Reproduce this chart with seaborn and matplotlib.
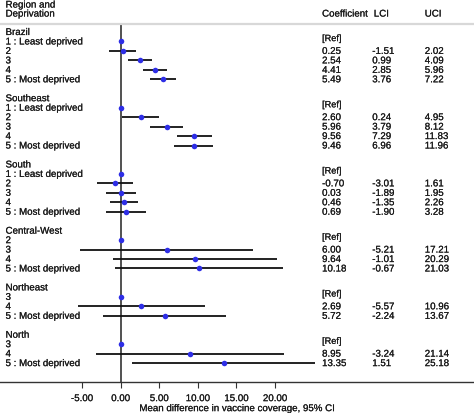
import numpy as np
import pandas as pd
import matplotlib
matplotlib.use("Agg")
import matplotlib.pyplot as plt
import matplotlib.patheffects as pe
import seaborn as sns

# Forest plot: mean difference in vaccine coverage by region and deprivation quintile
regions = ["Brazil", "Southeast", "South", "Central-West", "Northeast", "North"]

region = (["Brazil"] * 5 + ["Southeast"] * 5 + ["South"] * 5
          + ["Central-West"] * 4 + ["Northeast"] * 3 + ["North"] * 3)
level = (["1 : Least deprived", "2", "3", "4", "5 : Most deprived"] * 3
         + ["2", "3", "4", "5 : Most deprived"]
         + ["3", "4", "5 : Most deprived"] * 2)
is_ref = ([1, 0, 0, 0, 0] * 3 + [1, 0, 0, 0] + [1, 0, 0] * 2)
coef = [0, 0.25, 2.54, 4.41, 5.49,
        0, 2.60, 5.96, 9.56, 9.46,
        0, -0.70, 0.03, 0.46, 0.69,
        0, 6.00, 9.64, 10.18,
        0, 2.69, 5.72,
        0, 8.95, 13.35]
lci = [np.nan, -1.51, 0.99, 2.85, 3.76,
       np.nan, 0.24, 3.79, 7.29, 6.96,
       np.nan, -3.01, -1.89, -1.35, -1.90,
       np.nan, -5.21, -1.01, -0.67,
       np.nan, -5.57, -2.24,
       np.nan, -3.24, 1.51]
uci = [np.nan, 2.02, 4.09, 5.96, 7.22,
       np.nan, 4.95, 8.12, 11.83, 11.96,
       np.nan, 1.61, 1.95, 2.26, 3.28,
       np.nan, 17.21, 20.29, 21.03,
       np.nan, 10.96, 13.67,
       np.nan, 21.14, 25.18]
xticks = [-5, 0, 5, 10, 15, 20]

df = pd.DataFrame({"region": region, "level": level, "ref": is_ref,
                   "coef": coef, "lci": lci, "uci": uci})

# assign row positions: header row per region, then its levels, then a blank row
rows, headers = [], {}
r = 0
for reg in regions:
    headers[reg] = r
    r += 1
    n = (df["region"] == reg).sum()
    rows.extend(range(r, r + n))
    r += n + 1
df["row"] = rows

sns.set_theme(style="white")
plt.rcParams["font.family"] = ["Liberation Sans", "DejaVu Sans"]
FS = 7.0
tc = "#1a1a1a"
# a touch heavier, the source text is slightly blurred
heavy = [pe.withStroke(linewidth=0.12, foreground=tc)]

fig = plt.figure(figsize=(4.74, 4.14), dpi=100)
ax = fig.add_axes([0, 31 / 414, 1, 358 / 414])

ax.hlines(df["row"], df["lci"], df["uci"], color="#111111", lw=1.3, zorder=2)
sns.scatterplot(data=df, x="coef", y="row", ax=ax, color="#2e2ee6",
                s=16, linewidth=0, zorder=3, legend=False)
ax.axvline(0, color="#333333", lw=1.2, zorder=1)

ax.set_xlim(-15.62, 45.78)
ax.set_ylim(37.0, -0.846)

for s in ["top", "left", "right"]:
    ax.spines[s].set_visible(False)
ax.spines["bottom"].set_color("#333333")
ax.spines["bottom"].set_linewidth(1.0)
ax.set_yticks([])
ax.set_xticks(xticks)
ax.set_xticklabels([f"{t:.2f}" for t in xticks], fontsize=FS, color=tc,
                   path_effects=heavy)
ax.tick_params(axis="x", bottom=True, length=4, width=0.8, color="#333333", pad=4)
ax.set_xlabel("Mean difference in vaccine coverage, 95% CI", fontsize=FS,
              color=tc, path_effects=heavy)
ax.xaxis.set_label_coords(0.50, -0.059)

# top rule
ax.axhline(-0.846, color="#d8d8d8", lw=1.6, clip_on=False)

lx, cx, lcx, ucx = -14.9, 26.1, 32.6, 39.4


def put(x, y, s, size=FS):
    ax.text(x, y, s, fontsize=size, va="center", ha="left", color=tc,
            path_effects=heavy)


put(lx, -2.9, "Region and")
put(lx, -1.95, "Deprivation")
put(cx, -1.95, "Coefficient")
put(32.8, -1.95, "LCI")
put(ucx, -1.95, "UCI")

for reg, hr in headers.items():
    put(lx, hr, reg)

for _, d in df.iterrows():
    put(lx, d["row"], d["level"])
    if d["ref"]:
        put(cx, d["row"] - 0.3, "[Ref]", FS - 0.4)
    else:
        put(cx, d["row"], f"{d['coef']:.2f}")
        put(lcx, d["row"], f"{d['lci']:.2f}")
        put(ucx, d["row"], f"{d['uci']:.2f}")

fig.savefig("out.png", dpi=100)
